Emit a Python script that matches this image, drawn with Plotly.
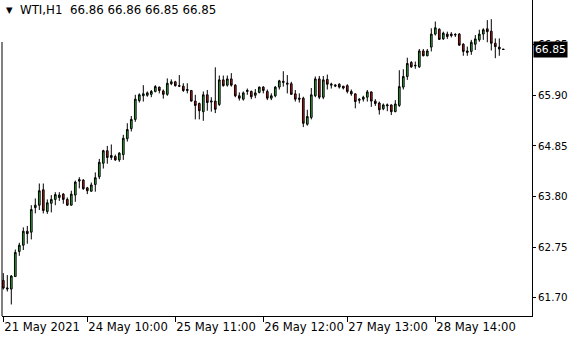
import plotly.graph_objects as go

symbol = "WTI,H1"
ohlc_title = "66.86 66.86 66.85 66.85"
last_price = 66.85

opens = [62.06, 61.88, 61.88, 62.14, 62.66, 62.79, 63.08, 63.06, 63.57, 63.62,
         63.94, 63.49, 63.66, 63.74, 63.78, 63.85, 63.74, 63.62, 63.83, 64.12,
         64.14, 63.98, 63.91, 64.05, 64.21, 64.49, 64.75, 64.61, 64.63, 64.56,
         64.67, 65.00, 65.21, 65.40, 65.79, 65.89, 65.90, 65.92, 65.98, 66.07,
         65.99, 65.92, 66.14, 66.18, 66.10, 66.09, 66.00, 66.00, 65.78, 65.73,
         65.56, 65.91, 65.76, 65.78, 65.71, 66.22, 66.11, 66.24, 66.11, 65.89,
         65.82, 65.98, 65.98, 65.90, 65.96, 66.07, 65.98, 65.84, 65.89, 66.07,
         66.19, 66.13, 66.14, 65.93, 65.84, 65.84, 65.30, 65.44, 65.89, 66.24,
         65.86, 66.23, 66.11, 66.09, 66.13, 66.09, 66.10, 65.98, 65.93, 65.82,
         65.82, 65.86, 65.97, 65.78, 65.74, 65.62, 65.68, 65.70, 65.56, 65.69,
         66.07, 66.29, 66.58, 66.51, 66.49, 66.82, 66.72, 66.90, 67.17, 67.27,
         67.07, 67.17, 67.17, 67.15, 67.17, 66.96, 66.82, 66.81, 66.96, 67.05,
         67.17, 67.28, 67.23, 66.98, 66.90, 66.86]
highs = [62.21, 62.17, 62.17, 62.70, 62.84, 63.16, 63.19, 63.62, 63.76, 64.07,
         64.07, 63.74, 63.83, 63.89, 63.89, 63.87, 63.78, 63.92, 64.13, 64.20,
         64.16, 64.00, 64.09, 64.30, 64.58, 64.77, 64.85, 64.88, 64.67, 64.72,
         65.08, 65.32, 65.47, 65.91, 65.94, 66.11, 65.98, 66.01, 66.11, 66.08,
         66.02, 66.25, 66.23, 66.20, 66.32, 66.15, 66.15, 66.01, 65.91, 65.75,
         65.98, 66.01, 65.86, 66.48, 66.31, 66.31, 66.31, 66.36, 66.13, 65.96,
         65.98, 66.04, 66.00, 66.03, 66.08, 66.09, 66.02, 65.94, 66.09, 66.22,
         66.40, 66.32, 66.18, 66.01, 65.94, 65.87, 65.60, 66.05, 66.29, 66.30,
         66.30, 66.33, 66.16, 66.13, 66.15, 66.09, 66.13, 66.02, 65.94, 65.84,
         65.89, 66.01, 65.98, 65.82, 65.77, 65.73, 65.73, 65.71, 65.80, 66.42,
         66.44, 66.68, 66.61, 66.60, 66.86, 66.86, 66.86, 67.29, 67.43, 67.29,
         67.22, 67.22, 67.21, 67.19, 67.19, 66.98, 66.91, 67.05, 67.15, 67.26,
         67.29, 67.46, 67.48, 67.08, 67.08, 66.86]
lows = [61.87, 61.83, 61.56, 62.13, 62.57, 62.69, 62.82, 62.91, 63.45, 63.52,
        63.45, 63.44, 63.47, 63.62, 63.71, 63.65, 63.61, 63.61, 63.69, 63.97,
        63.94, 63.85, 63.90, 63.90, 64.16, 64.38, 64.48, 64.56, 64.54, 64.52,
        64.56, 64.94, 65.15, 65.35, 65.75, 65.77, 65.87, 65.86, 65.96, 65.94,
        65.83, 65.89, 66.11, 66.08, 66.07, 65.97, 65.94, 65.77, 65.40, 65.40,
        65.37, 65.58, 65.56, 65.53, 65.68, 66.08, 66.08, 66.08, 65.86, 65.79,
        65.79, 65.91, 65.82, 65.84, 65.94, 65.94, 65.80, 65.80, 65.86, 66.02,
        66.08, 65.94, 65.91, 65.77, 65.75, 65.24, 65.27, 65.40, 65.86, 65.82,
        65.82, 66.02, 66.04, 66.07, 66.04, 66.02, 65.94, 65.89, 65.63, 65.73,
        65.77, 65.77, 65.66, 65.68, 65.50, 65.59, 65.57, 65.49, 65.55, 65.66,
        66.02, 66.22, 66.47, 66.45, 66.47, 66.71, 66.71, 66.81, 67.14, 67.05,
        67.05, 67.07, 67.10, 67.11, 66.93, 66.72, 66.72, 66.74, 66.84, 67.01,
        67.05, 67.00, 66.83, 66.67, 66.72, 66.85]
closes = [61.90, 61.90, 62.15, 62.64, 62.79, 63.08, 63.03, 63.53, 63.62, 63.92,
          63.51, 63.67, 63.74, 63.84, 63.83, 63.74, 63.62, 63.85, 64.10, 64.15,
          63.96, 63.92, 64.04, 64.19, 64.51, 64.75, 64.61, 64.65, 64.56, 64.70,
          65.01, 65.19, 65.40, 65.82, 65.91, 65.93, 65.95, 65.98, 66.08, 66.00,
          65.92, 66.15, 66.18, 66.10, 66.09, 66.00, 66.02, 65.78, 65.69, 65.58,
          65.91, 65.75, 65.78, 65.61, 66.22, 66.10, 66.24, 66.11, 65.89, 65.84,
          65.95, 66.00, 65.87, 65.95, 66.07, 66.00, 65.84, 65.89, 66.07, 66.20,
          66.17, 66.15, 65.92, 65.82, 65.82, 65.32, 65.46, 65.91, 66.24, 65.86,
          66.22, 66.13, 66.13, 66.11, 66.07, 66.05, 65.98, 65.93, 65.77, 65.80,
          65.86, 65.97, 65.78, 65.73, 65.60, 65.70, 65.70, 65.56, 65.72, 66.08,
          66.29, 66.56, 66.49, 66.52, 66.82, 66.72, 66.82, 67.17, 67.30, 67.06,
          67.19, 67.12, 67.14, 67.16, 66.94, 66.81, 66.79, 67.00, 67.07, 67.17,
          67.26, 67.22, 66.98, 66.91, 66.86, 66.85]

time_tick_bars = [0, 21, 43, 65, 86, 108]
time_tick_labels = ["21 May 2021", "24 May 10:00", "25 May 11:00",
                    "26 May 12:00", "27 May 13:00", "28 May 14:00"]
price_ticks = [61.70, 62.75, 63.80, 64.85, 65.90, 66.95]

FONT = "DejaVu Sans"
bars = list(range(len(opens)))

fig = go.Figure(go.Candlestick(
    x=bars, open=opens, high=highs, low=lows, close=closes,
    increasing=dict(fillcolor="#36c436", line=dict(color="black", width=1)),
    decreasing=dict(fillcolor="#d61a1a", line=dict(color="black", width=1)),
    whiskerwidth=0, hoverinfo="skip", showlegend=False,
))

fig.update_layout(
    width=580, height=340,
    margin=dict(l=2, r=48, t=0, b=24, autoexpand=False),
    paper_bgcolor="white", plot_bgcolor="white",
    boxgap=0.4,
    font=dict(family=FONT, size=10.5, color="black"),
    xaxis=dict(
        range=[-0.325, 132.175], rangeslider=dict(visible=False),
        tickmode="array", tickvals=time_tick_bars, ticktext=time_tick_labels,
        tickangle=0, automargin=False,
        ticks="outside", ticklen=5, tickcolor="black", tickwidth=1,
        ticklabelposition="outside right",
        showgrid=False, zeroline=False,
        showline=True, linecolor="black", linewidth=1,
        tickfont=dict(family=FONT, size=11.6, color="black"),
    ),
    yaxis=dict(
        range=[61.321, 67.877], side="right", automargin=False,
        tickmode="array", tickvals=price_ticks,
        ticktext=[f"{v:.2f}" for v in price_ticks],
        ticks="outside", ticklen=3, tickcolor="black",
        showgrid=False, zeroline=False,
        showline=True, linecolor="black", linewidth=1,
        tickfont=dict(family=FONT, size=10.3, color="black"),
    ),
)

# left frame line (below title area)
fig.add_shape(type="line", xref="paper", yref="paper",
              x0=0, x1=0, y0=0, y1=(316 - 42) / 316,
              line=dict(color="black", width=1))

# title
fig.add_annotation(xref="paper", yref="paper", x=0, y=1, xanchor="left", yanchor="top",
                   xshift=2, yshift=-3, showarrow=False,
                   text="▼", font=dict(family=FONT, size=8.5, color="black"))
fig.add_annotation(xref="paper", yref="paper", x=0, y=1, xanchor="left", yanchor="top",
                   xshift=16, yshift=-1, showarrow=False,
                   text=f"{symbol}  {ohlc_title}",
                   font=dict(family=FONT, size=11.8, color="black"))

# current price label
fig.add_annotation(xref="paper", yref="y", x=1, y=last_price, xanchor="left",
                   yanchor="middle", xshift=1, showarrow=False,
                   text=f"{last_price:.2f}", bgcolor="black", borderpad=1,
                   font=dict(family=FONT, size=10.8, color="white"))

fig.write_html("out.html")
